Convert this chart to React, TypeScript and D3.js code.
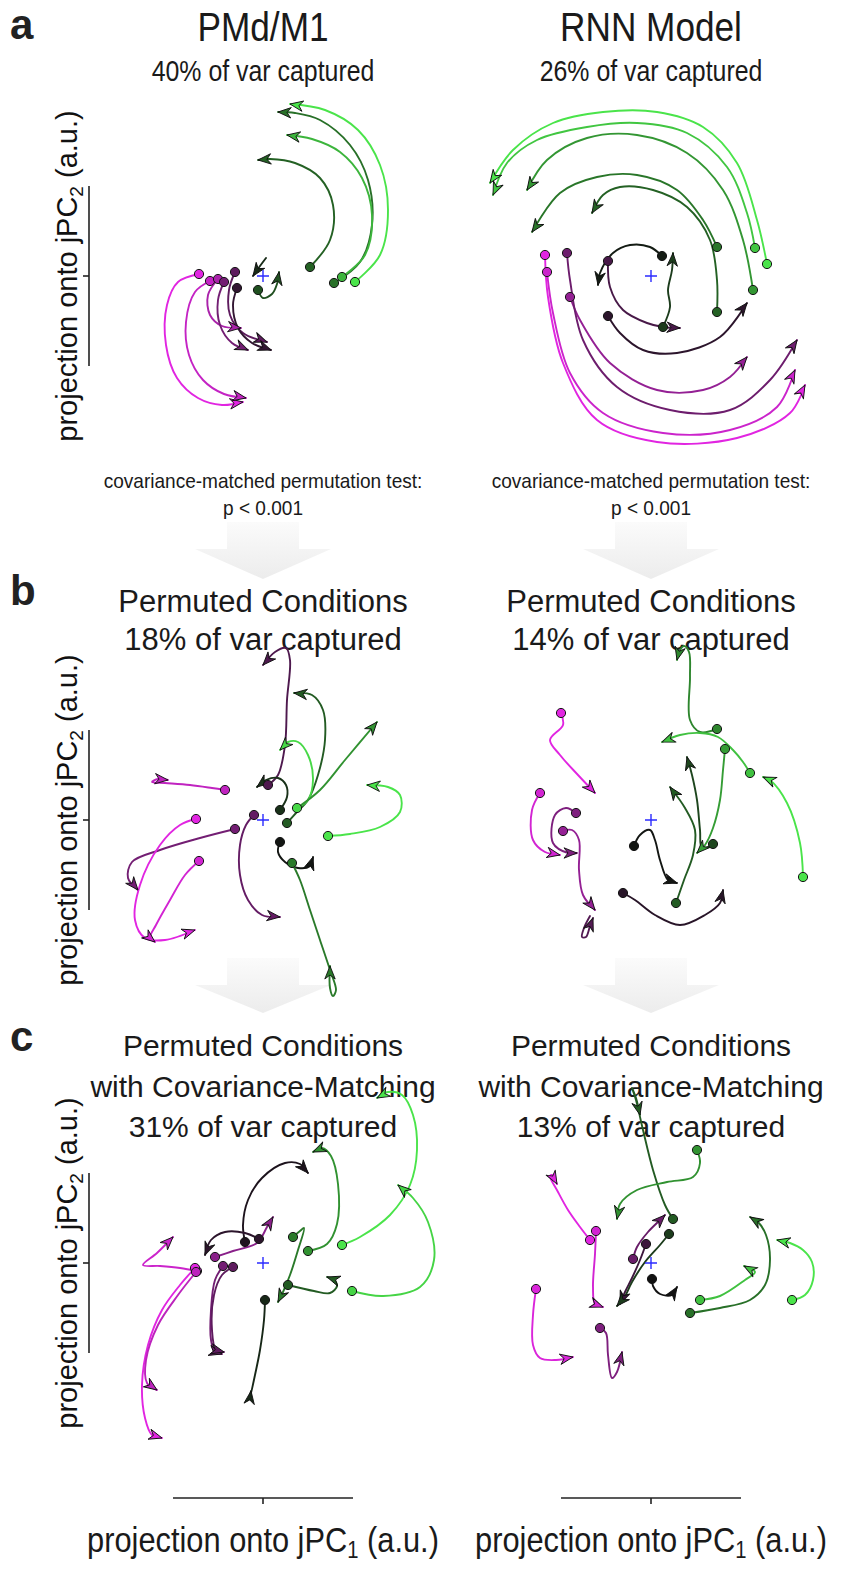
import React from "react";
import * as d3 from "d3";

// Each trajectory: condition value (-1 = magenta end, 0 = black, +1 = green end)
// and its points in projection units (jPC1, jPC2), relative to the panel origin.
type Traj = { cond: number; pts: [number, number][]; dot?: boolean };

const pmdTraj: Traj[] = [
  { cond: 0.95, pts: [[92, -6], [117, 21], [125, 66], [117, 111], [95, 146], [62, 166], [27, 172]] },
  { cond: 0.45, pts: [[71, -7], [97, 14], [109, 51], [105, 96], [87, 131], [57, 156], [32, 163], [15, 164]] },
  { cond: 0.75, pts: [[79, -1], [102, 21], [109, 61], [99, 98], [77, 124], [49, 137], [24, 141]] },
  { cond: 0.38, pts: [[47, 9], [67, 36], [70, 71], [57, 98], [32, 113], [7, 117], [-5, 116]] },
  { cond: 0.3, pts: [[-5, -14], [0, -22], [9, -18], [14, -8], [16, 4]] },
  { cond: 0.12, pts: [[3, 18], [-3, 10], [-10, 0]], dot: false },
  { cond: -0.95, pts: [[-64, 2], [-85, -6], [-96, -29], [-97, -69], [-86, -102], [-65, -122], [-41, -129], [-20, -126]] },
  { cond: -0.82, pts: [[-53, -5], [-68, -16], [-77, -46], [-74, -79], [-60, -104], [-39, -118], [-17, -122]] },
  { cond: -0.7, pts: [[-45, -3], [-55, -19], [-53, -39], [-41, -50], [-22, -52]] },
  { cond: -0.45, pts: [[-39, -6], [-45, -24], [-43, -49], [-31, -67], [-15, -74]] },
  { cond: -0.35, pts: [[-28, 4], [-34, -14], [-33, -39], [-20, -57], [4, -66]] },
  { cond: -0.15, pts: [[-26, -12], [-30, -29], [-25, -52], [-11, -67], [8, -74]] },
];

const rnnTraj: Traj[] = [
  { cond: 0.95, pts: [[116, 12], [106, 56], [86, 113], [52, 149], [6, 164], [-48, 164], [-98, 153], [-138, 126], [-161, 93]] },
  { cond: 0.82, pts: [[104, 28], [96, 63], [76, 109], [36, 143], [-14, 153], [-64, 149], [-114, 136], [-144, 113], [-158, 81]] },
  { cond: 0.62, pts: [[102, -14], [92, 36], [72, 86], [36, 123], [-14, 141], [-64, 138], [-104, 116], [-124, 86]] },
  { cond: 0.48, pts: [[66, 29], [52, 56], [26, 86], [-14, 101], [-54, 99], [-91, 83], [-119, 44]] },
  { cond: 0.38, pts: [[66, -36], [66, -4], [59, 36], [36, 69], [2, 86], [-31, 89], [-48, 81], [-59, 63]] },
  { cond: 0.05, pts: [[11, 20], [-1, 29], [-21, 31], [-38, 23], [-51, 3], [-53, -9]] },
  { cond: -0.25, pts: [[-43, 15], [-41, -11], [-28, -34], [-4, -47], [12, -51], [29, -52]] },
  { cond: 0.2, pts: [[12, -51], [19, -31], [17, -14], [21, 6], [22, 23]] },
  { cond: -0.12, pts: [[-43, -40], [-31, -57], [-8, -74], [26, -77], [69, -61], [96, -27]] },
  { cond: -0.6, pts: [[-81, -21], [-71, -44], [-41, -87], [6, -114], [52, -114], [79, -101], [96, -81]] },
  { cond: -0.42, pts: [[-84, 23], [-81, -4], [-68, -64], [-34, -111], [19, -134], [79, -134], [119, -104], [146, -64]] },
  { cond: -0.85, pts: [[-104, 4], [-98, -37], [-81, -97], [-48, -137], [12, -157], [79, -154], [126, -131], [144, -94]] },
  { cond: -0.95, pts: [[-106, 21], [-103, -21], [-88, -87], [-54, -144], [6, -166], [86, -162], [139, -137], [154, -109]] },
];

const pmdPermTraj: Traj[] = [
  { cond: -0.28, pts: [[5, 35], [15, 45], [22, 75], [24, 120], [27, 160], [23, 172], [12, 168], [0, 155]] },
  { cond: 0.15, pts: [[17, 10], [24, 23], [23, 35], [15, 42], [3, 40], [-6, 33]] },
  { cond: 0.35, pts: [[24, -3], [33, 7], [45, 20], [55, 45], [62, 80], [60, 110], [49, 125], [31, 127]] },
  { cond: 0.9, pts: [[34, 12], [45, 20], [50, 40], [45, 65], [35, 78], [25, 78], [17, 70]] },
  { cond: 0.6, pts: [[34, 12], [57, 30], [82, 60], [114, 98]], dot: false },
  { cond: 0.95, pts: [[65, -16], [87, -14], [117, -7], [137, 8], [137, 25], [125, 33], [104, 35]] },
  { cond: 0.02, pts: [[17, -22], [15, -32], [22, -42], [35, -48], [47, -46], [50, -37]] },
  { cond: 0.5, pts: [[29, -43], [37, -60], [47, -90], [57, -120], [67, -150], [73, -170], [70, -176], [67, -168], [67, -146]] },
  { cond: -0.38, pts: [[-9, 5], [-17, -5], [-23, -25], [-23, -55], [-15, -80], [-1, -95], [17, -97]] },
  { cond: -0.45, pts: [[-28, -9], [-63, -18], [-103, -30], [-131, -42], [-135, -58], [-125, -70]] },
  { cond: -0.8, pts: [[-38, 30], [-51, 32], [-73, 35], [-98, 37], [-111, 38], [-105, 41], [-95, 40]] },
  { cond: -0.95, pts: [[-67, 1], [-83, -5], [-103, -25], [-123, -65], [-128, -100], [-118, -118], [-98, -120], [-68, -110]] },
  { cond: -0.88, pts: [[-64, -41], [-78, -55], [-93, -80], [-107, -105], [-113, -118], [-108, -122]] },
];

const rnnPermTraj: Traj[] = [
  { cond: 0.55, pts: [[66, 91], [49, 88], [39, 100], [39, 143], [38, 168], [33, 174], [28, 168], [26, 160]] },
  { cond: 0.8, pts: [[99, 47], [92, 58], [82, 70], [67, 83], [49, 87], [29, 85], [11, 78]] },
  { cond: 0.65, pts: [[74, 71], [72, 50], [69, 20], [62, -8], [54, -25], [46, -33]] },
  { cond: 0.95, pts: [[152, -57], [149, -23], [136, 17], [119, 40], [112, 43]] },
  { cond: 0.25, pts: [[62, -24], [51, -28], [49, -10], [46, 20], [41, 45], [36, 63]] },
  { cond: 0.35, pts: [[25, -83], [33, -60], [42, -35], [44, -10], [34, 12], [19, 33]] },
  { cond: 0.02, pts: [[-17, -26], [-11, -15], [-1, -10], [4, -20], [9, -40], [17, -60], [26, -63]] },
  { cond: -0.1, pts: [[-28, -73], [-16, -80], [4, -95], [29, -105], [54, -95], [69, -83], [72, -70]] },
  { cond: -0.95, pts: [[-90, 107], [-88, 95], [-101, 80], [-91, 65], [-73, 45], [-56, 27]] },
  { cond: -0.88, pts: [[-111, 27], [-119, 10], [-118, -20], [-106, -32], [-91, -35]] },
  { cond: -0.5, pts: [[-75, 7], [-85, 12], [-96, 5], [-98, -23], [-83, -33], [-74, -33]] },
  { cond: -0.6, pts: [[-88, -11], [-79, -10], [-72, -20], [-72, -50], [-68, -75], [-56, -90]] },
  { cond: -0.3, pts: [[-61, -96], [-67, -108], [-69, -117], [-65, -117], [-61, -106], [-58, -98]], dot: false },
];

const pmdCovTraj: Traj[] = [
  { cond: 0.95, pts: [[79, 18], [97, 26], [127, 48], [147, 78], [154, 113], [150, 148], [139, 168], [125, 171], [114, 165]] },
  { cond: 0.88, pts: [[89, -28], [120, -33], [157, -24], [171, 3], [165, 41], [150, 65], [135, 78]] },
  { cond: 0.6, pts: [[45, 12], [64, 19], [74, 39], [75, 79], [68, 107], [59, 115], [50, 111]] },
  { cond: -0.05, pts: [[-18, 21], [-20, 38], [-15, 63], [-1, 85], [22, 100], [37, 99], [45, 90]] },
  { cond: -0.12, pts: [[-4, 24], [-18, 30], [-38, 31], [-52, 23], [-58, 8]] },
  { cond: -0.55, pts: [[-48, 6], [-30, 12], [-6, 20], [4, 36], [10, 46]] },
  { cond: -0.85, pts: [[-66, -8], [-83, -5], [-103, -3], [-120, -2], [-106, 10], [-90, 26]] },
  { cond: -0.95, pts: [[-68, -5], [-83, -22], [-101, -47], [-115, -82], [-121, -122], [-118, -155], [-111, -172], [-101, -175]] },
  { cond: -0.78, pts: [[-67, -9], [-85, -32], [-105, -62], [-117, -97], [-116, -120], [-106, -127]] },
  { cond: -0.45, pts: [[-40, -3], [-48, -17], [-52, -47], [-52, -77], [-48, -89], [-41, -91]] },
  { cond: -0.35, pts: [[-30, -4], [-41, -12], [-49, -32], [-51, -67], [-47, -87], [-39, -89]] },
  { cond: 0.1, pts: [[2, -37], [1, -57], [-3, -87], [-8, -112], [-13, -135], [-12, -128]] },
  { cond: 0.35, pts: [[25, -22], [51, -28], [67, -30], [74, -23], [70, -16], [64, -14]] },
  { cond: 0.5, pts: [[30, 26], [37, 32], [41, 35], [35, 13], [27, -12], [20, -29], [15, -39]] },
];

const rnnCovTraj: Traj[] = [
  { cond: 0.35, pts: [[22, 44], [14, 58], [2, 93], [-8, 133], [-15, 163], [-19, 175], [-15, 165], [-11, 148]] },
  { cond: 0.6, pts: [[46, 113], [49, 100], [42, 86], [16, 81], [-14, 73], [-31, 59], [-34, 44]] },
  { cond: -0.88, pts: [[-55, 32], [-56, 9], [-58, -24], [-56, -41], [-48, -44]] },
  { cond: -0.95, pts: [[-61, 23], [-71, 36], [-83, 53], [-93, 71], [-101, 87], [-99, 88], [-94, 79]] },
  { cond: -0.92, pts: [[-115, -26], [-118, -52], [-118, -82], [-111, -95], [-95, -97], [-78, -94]] },
  { cond: -0.5, pts: [[-51, -65], [-45, -70], [-43, -92], [-39, -115], [-34, -109], [-29, -89]] },
  { cond: -0.4, pts: [[-18, 4], [-14, 16], [-3, 31], [9, 43], [14, 48]] },
  { cond: -0.2, pts: [[-5, 19], [-11, 3], [-19, -15], [-26, -29], [-31, -41]] },
  { cond: 0.2, pts: [[18, 29], [9, 18], [-6, 1], [-19, -19], [-27, -35], [-34, -43]] },
  { cond: 0.0, pts: [[1, -16], [2, -23], [9, -31], [21, -32], [26, -24]] },
  { cond: 0.8, pts: [[49, -37], [69, -33], [94, -17], [104, -9], [93, -3]] },
  { cond: 0.45, pts: [[39, -50], [69, -45], [99, -37], [114, -22], [119, 3], [115, 28], [107, 41], [99, 46]] },
  { cond: 0.95, pts: [[141, -37], [154, -32], [162, -17], [161, 1], [152, 13], [139, 20], [126, 23]] },
];

const columnTitles = ["PMd/M1", "RNN Model"];
const varA = [40, 26];
const varB = [18, 14];
const varC = [31, 13];
const pValues = ["p < 0.001", "p < 0.001"];

// layout
const W = 844;
const H = 1572;
const colX = [263, 651];
const rowY = [276, 820, 1263];
const HALF = 90; // half length of the scale bars in pixels
const sans = "'Liberation Sans', Arial, Helvetica, sans-serif";

const colorOf = d3
  .scaleLinear<string>()
  .domain([-1, -0.5, 0, 0.5, 1])
  .range(["#ec26ec", "#7e1f7e", "#121212", "#2a7a2a", "#4ef04e"])
  .interpolate(d3.interpolateRgb);

// horizontally condensed, centred text
function CondText({ x, y, size, sx, children }: { x: number; y: number; size: number; sx: number; children: React.ReactNode }) {
  return (
    <text transform={`translate(${x},${y}) scale(${sx},1)`} textAnchor="middle" fontFamily={sans} fontSize={size} fill="#1a1a1a">
      {children}
    </text>
  );
}

function TrajPanel({ cx, cy, data }: { cx: number; cy: number; data: Traj[] }) {
  const x = d3.scaleLinear().domain([-HALF, HALF]).range([cx - HALF, cx + HALF]);
  const y = d3.scaleLinear().domain([-HALF, HALF]).range([cy + HALF, cy - HALF]);
  const line = d3
    .line<[number, number]>()
    .x((d) => x(d[0]))
    .y((d) => y(d[1]))
    .curve(d3.curveCatmullRom.alpha(0.5));

  const heads = data.map((t) => {
    const n = t.pts.length;
    const a = t.pts[n - 2];
    const b = t.pts[n - 1];
    const ang = (Math.atan2(y(b[1]) - y(a[1]), x(b[0]) - x(a[0])) * 180) / Math.PI;
    return { x: x(b[0]), y: y(b[1]), ang };
  });

  return (
    <g>
      {data.map((t, i) => (
        <path key={"l" + i} d={line(t.pts) || ""} fill="none" stroke={colorOf(t.cond)} strokeWidth={1.9} strokeLinecap="round" strokeLinejoin="round" />
      ))}
      {data.map((t, i) => (
        <polygon
          key={"a" + i}
          points="0,0 -13,5.2 -9,0 -13,-5.2"
          transform={`translate(${heads[i].x},${heads[i].y}) rotate(${heads[i].ang})`}
          fill={colorOf(t.cond)}
          stroke="#111"
          strokeWidth={0.9}
          strokeLinejoin="round"
        />
      ))}
      {data.map((t, i) =>
        t.dot === false ? null : (
          <circle key={"d" + i} cx={x(t.pts[0][0])} cy={y(t.pts[0][1])} r={4.6} fill={colorOf(t.cond)} stroke="#151515" strokeWidth={1} />
        )
      )}
      <path d={`M${x(-6)},${y(0)}H${x(6)}M${x(0)},${y(-6)}V${y(6)}`} stroke="#2b2bff" strokeWidth={1.4} fill="none" />
    </g>
  );
}

function BlockArrow({ cx, top, shaftEnd, tip, shaftHalf, headHalf }: { cx: number; top: number; shaftEnd: number; tip: number; shaftHalf: number; headHalf: number }) {
  const d = `M${cx - shaftHalf},${top}H${cx + shaftHalf}V${shaftEnd}H${cx + headHalf}L${cx},${tip}L${cx - headHalf},${shaftEnd}H${cx - shaftHalf}Z`;
  return <path d={d} fill="url(#fadeGray)" />;
}

function YLabel({ cy }: { cy: number }) {
  return (
    <g>
      <text x={0} y={0} transform={`translate(77,${cy}) rotate(-90)`} textAnchor="middle" fontFamily={sans} fontSize={29} fill="#111">
        projection onto jPC
        <tspan fontSize={19} dy={6}>2</tspan>
        <tspan dy={-6}>{" (a.u.)"}</tspan>
      </text>
      <line x1={89} x2={89} y1={cy - HALF} y2={cy + HALF} stroke="#222" strokeWidth={1.6} />
      <line x1={83} x2={89} y1={cy} y2={cy} stroke="#222" strokeWidth={1.6} />
    </g>
  );
}

export default function App() {
  const rows: Traj[][] = [
    [pmdTraj, rnnTraj],
    [pmdPermTraj, rnnPermTraj],
    [pmdCovTraj, rnnCovTraj],
  ];
  return (
    <svg width={W} height={H} viewBox={`0 0 ${W} ${H}`} style={{ position: "absolute", left: 0, top: 0, background: "#fff" }}>
      <defs>
        <linearGradient id="fadeGray" x1="0" y1="0" x2="0" y2="1">
          <stop offset="0" stopColor="#fbfbfb" />
          <stop offset="1" stopColor="#ececec" />
        </linearGradient>
      </defs>
      <rect x={0} y={0} width={W} height={H} fill="#fff" />

      {/* panel letters */}
      <text x={10} y={39} fontFamily={sans} fontWeight="bold" fontSize={42} fill="#222">a</text>
      <text x={10} y={605} fontFamily={sans} fontWeight="bold" fontSize={42} fill="#222">b</text>
      <text x={10} y={1051} fontFamily={sans} fontWeight="bold" fontSize={42} fill="#222">c</text>

      {/* gray flow arrows between rows */}
      {colX.map((cx, i) => (
        <g key={"ga" + i}>
          <BlockArrow cx={cx} top={522} shaftEnd={549} tip={579} shaftHalf={36} headHalf={68} />
          <BlockArrow cx={cx} top={958} shaftEnd={985} tip={1013} shaftHalf={36} headHalf={68} />
        </g>
      ))}

      {/* row a titles */}
      {colX.map((cx, i) => (
        <g key={"ta" + i}>
          <CondText x={cx} y={41} size={40} sx={0.88}>{columnTitles[i]}</CondText>
          <CondText x={cx} y={81} size={30} sx={0.83}>{`${varA[i]}% of var captured`}</CondText>
          <CondText x={cx} y={488} size={20.5} sx={0.93}>covariance-matched permutation test:</CondText>
          <CondText x={cx} y={515} size={20.5} sx={0.93}>{pValues[i]}</CondText>
        </g>
      ))}

      {/* row b titles */}
      {colX.map((cx, i) => (
        <g key={"tb" + i} fontFamily={sans} fill="#1a1a1a" textAnchor="middle" fontSize={31}>
          <text x={cx} y={612}>Permuted Conditions</text>
          <text x={cx} y={650}>{`${varB[i]}% of var captured`}</text>
        </g>
      ))}

      {/* row c titles */}
      {colX.map((cx, i) => (
        <g key={"tc" + i} fontFamily={sans} fill="#1a1a1a" textAnchor="middle" fontSize={30}>
          <text x={cx} y={1056}>Permuted Conditions</text>
          <text x={cx} y={1097}>with Covariance-Matching</text>
          <text x={cx} y={1137}>{`${varC[i]}% of var captured`}</text>
        </g>
      ))}

      {/* trajectories */}
      {rows.map((row, r) =>
        row.map((data, c) => <TrajPanel key={`p${r}${c}`} cx={colX[c]} cy={rowY[r]} data={data} />)
      )}

      {/* y scale bars and labels */}
      {rowY.map((cy, r) => (
        <YLabel key={"yl" + r} cy={cy} />
      ))}

      {/* x scale bars and labels */}
      {colX.map((cx, i) => (
        <g key={"xl" + i}>
          <line x1={cx - HALF} x2={cx + HALF} y1={1498} y2={1498} stroke="#222" strokeWidth={1.6} />
          <line x1={cx} x2={cx} y1={1498} y2={1504} stroke="#222" strokeWidth={1.6} />
          <CondText x={cx} y={1552} size={35} sx={0.88}>
            projection onto jPC
            <tspan fontSize={23} dy={6}>1</tspan>
            <tspan dy={-6}>{" (a.u.)"}</tspan>
          </CondText>
        </g>
      ))}
    </svg>
  );
}
